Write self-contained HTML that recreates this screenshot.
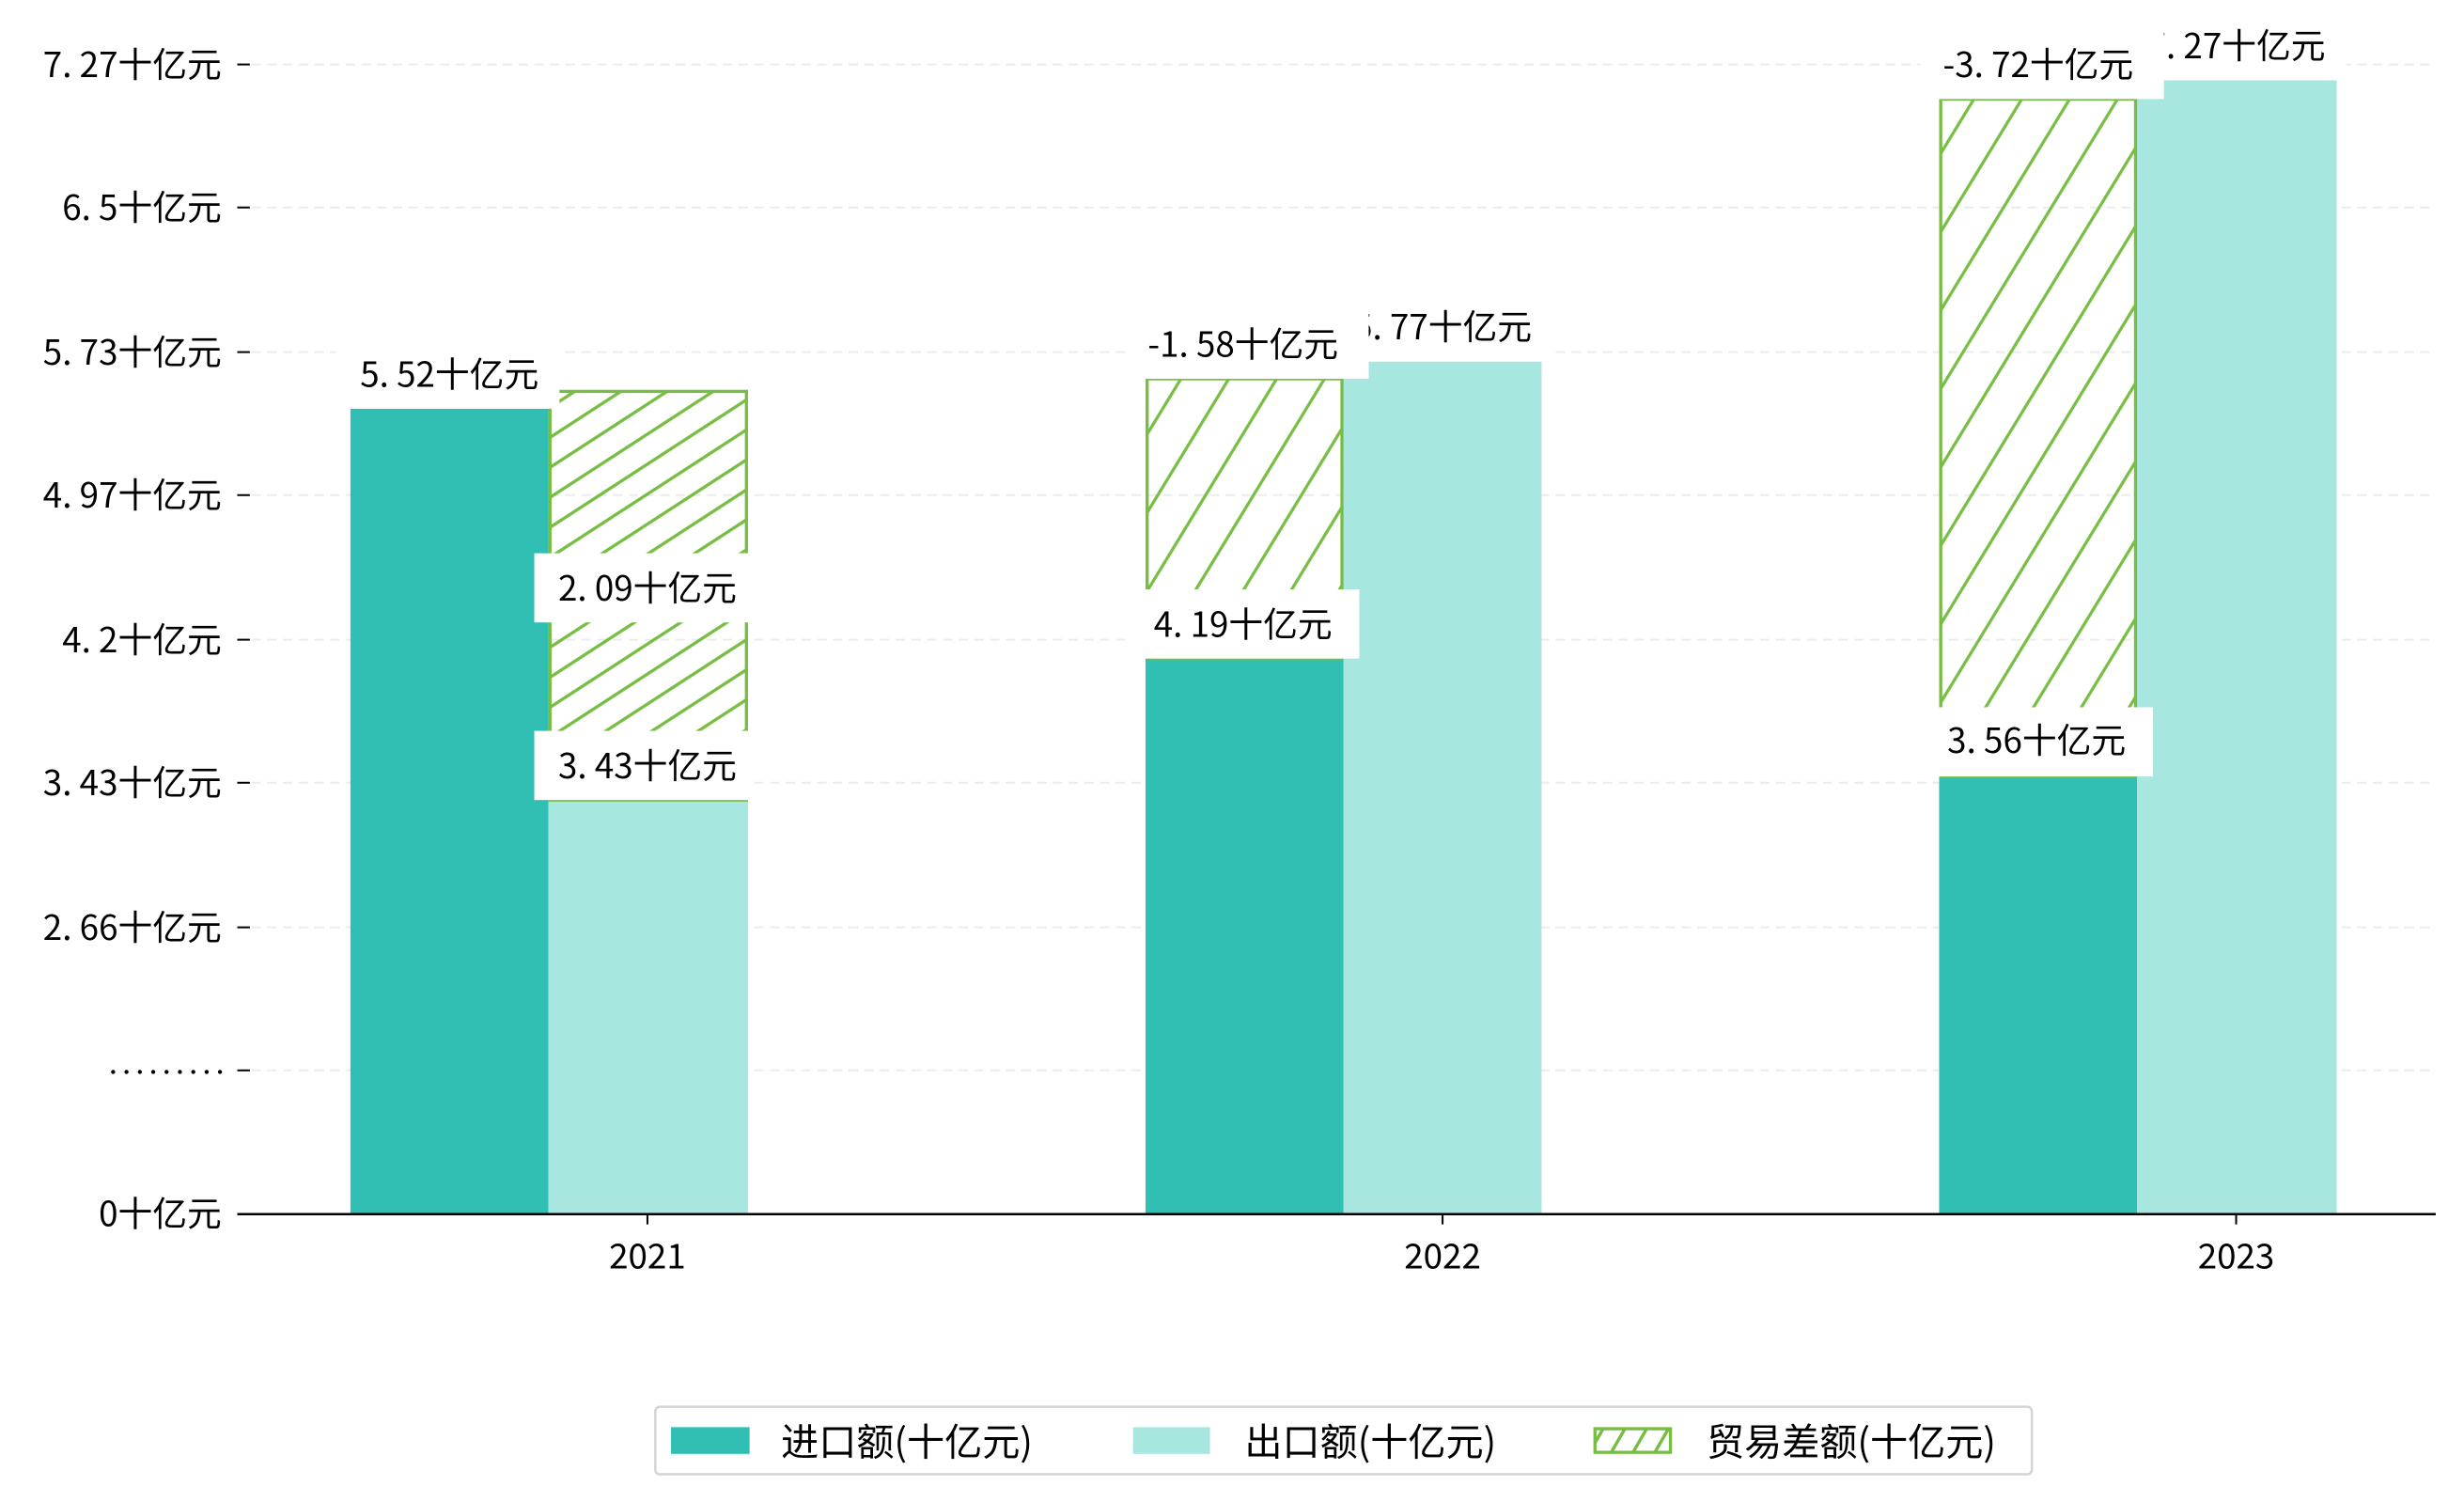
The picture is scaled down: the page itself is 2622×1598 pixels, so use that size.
<!DOCTYPE html>
<html><head><meta charset="utf-8"><style>
html,body{margin:0;padding:0;background:#fff;}
svg{display:block;}
text{font-family:"WenQuanYi Zen Hei","Noto Sans CJK SC",sans-serif;fill:#000;}
</style></head><body>
<svg width="2622" height="1598" viewBox="0 0 1568 955.6" xmlns="http://www.w3.org/2000/svg">
<defs>
<pattern id="h1" patternUnits="userSpaceOnUse" width="16" height="16" patternTransform="rotate(-33)">
<line x1="0" y1="8" x2="16" y2="8" stroke="#77bd43" stroke-width="2"/></pattern>
<pattern id="h2" patternUnits="userSpaceOnUse" width="26" height="26" patternTransform="rotate(-58.6)">
<line x1="0" y1="13" x2="26" y2="13" stroke="#77bd43" stroke-width="2"/></pattern>
<pattern id="h3" patternUnits="userSpaceOnUse" width="12" height="12" patternTransform="rotate(-60)">
<line x1="0" y1="6" x2="12" y2="6" stroke="#77bd43" stroke-width="2"/></pattern>
</defs>
<rect width="1568" height="956" fill="#fff"/>
<g stroke="#ececec" stroke-width="1.2" stroke-dasharray="6,4">
<line x1="160" y1="41" x2="1550" y2="41"/><line x1="160" y1="132" x2="1550" y2="132"/>
<line x1="160" y1="224" x2="1550" y2="224"/><line x1="160" y1="315" x2="1550" y2="315"/>
<line x1="160" y1="407" x2="1550" y2="407"/><line x1="160" y1="498" x2="1550" y2="498"/>
<line x1="160" y1="590" x2="1550" y2="590"/><line x1="160" y1="681" x2="1550" y2="681"/>
</g>
<g stroke="#000" stroke-width="1.2">
<line x1="151" y1="41" x2="159" y2="41"/><line x1="151" y1="132" x2="159" y2="132"/>
<line x1="151" y1="224" x2="159" y2="224"/><line x1="151" y1="315" x2="159" y2="315"/>
<line x1="151" y1="407" x2="159" y2="407"/><line x1="151" y1="498" x2="159" y2="498"/>
<line x1="151" y1="590" x2="159" y2="590"/><line x1="151" y1="681" x2="159" y2="681"/>
</g>
<g font-size="22" text-anchor="end">
<text x="141" y="49">7. 27十亿元</text><text x="141" y="140">6. 5十亿元</text>
<text x="141" y="232">5. 73十亿元</text><text x="141" y="323">4. 97十亿元</text>
<text x="141" y="415">4. 2十亿元</text><text x="141" y="506">3. 43十亿元</text>
<text x="141" y="598">2. 66十亿元</text>
<text x="141" y="780">0十亿元</text>
</g>
<g fill="#000">
<circle cx="72" cy="682" r="1.3"/><circle cx="80.5" cy="682" r="1.3"/><circle cx="89" cy="682" r="1.3"/>
<circle cx="97.5" cy="682" r="1.3"/><circle cx="106" cy="682" r="1.3"/><circle cx="114.5" cy="682" r="1.3"/>
<circle cx="123" cy="682" r="1.3"/><circle cx="131.5" cy="682" r="1.3"/><circle cx="140" cy="682" r="1.3"/>
</g>
<rect x="223" y="260" width="126" height="512" fill="#30bfb2"/>
<rect x="349" y="509" width="127" height="263" fill="#a8e7e0"/>
<rect x="350" y="249" width="125" height="260" fill="url(#h1)" stroke="#77bd43" stroke-width="2"/>
<rect x="729" y="419" width="126" height="353" fill="#30bfb2"/>
<rect x="855" y="230" width="126" height="542" fill="#a8e7e0"/>
<rect x="730" y="241" width="124" height="178" fill="url(#h2)" stroke="#77bd43" stroke-width="2"/>
<rect x="1234" y="494" width="126" height="278" fill="#30bfb2"/>
<rect x="1360" y="51" width="127" height="721" fill="#a8e7e0"/>
<rect x="1235" y="63" width="124" height="431" fill="url(#h2)" stroke="#77bd43" stroke-width="2"/>
<g font-size="22" text-anchor="middle">
<rect x="214" y="217" width="142" height="43" fill="#fff"/><text x="286" y="246">5. 52十亿元</text>
<rect x="340" y="465" width="138" height="44" fill="#fff"/><text x="412" y="495">3. 43十亿元</text>
<rect x="340" y="352" width="138" height="44" fill="#fff"/><text x="412" y="382">2. 09十亿元</text>
<rect x="848" y="187" width="140" height="43" fill="#fff"/><text x="918" y="216">5. 77十亿元</text>
<rect x="717" y="375" width="148" height="44" fill="#fff"/><text x="791" y="405">4. 19十亿元</text>
<rect x="717" y="198" width="154" height="43" fill="#fff"/><text x="791" y="227">-1. 58十亿元</text>
<rect x="1353" y="8" width="140" height="43" fill="#fff"/><text x="1423" y="37">7. 27十亿元</text>
<rect x="1222" y="450" width="148" height="44" fill="#fff"/><text x="1296" y="479">3. 56十亿元</text>
<rect x="1222" y="20" width="155" height="43" fill="#fff"/><text x="1297" y="49">-3. 72十亿元</text>
</g>
<line x1="151" y1="772.5" x2="1550" y2="772.5" stroke="#000" stroke-width="1.5"/>
<g stroke="#000" stroke-width="1.2"><line x1="412" y1="772" x2="412" y2="779"/><line x1="918" y1="772" x2="918" y2="779"/><line x1="1423" y1="772" x2="1423" y2="779"/></g>
<g font-size="22" text-anchor="middle"><text x="412" y="807">2021</text><text x="918" y="807">2022</text><text x="1423" y="807">2023</text></g>
<rect x="417" y="895" width="876" height="43" rx="3" fill="#fff" stroke="#d4d4d4" stroke-width="1.5"/>
<rect x="427" y="908" width="50" height="17" fill="#30bfb2"/>
<rect x="721" y="908" width="49" height="17" fill="#a8e7e0"/>
<rect x="1015" y="909" width="48" height="15" fill="url(#h3)" stroke="#77bd43" stroke-width="2"/>
<g font-size="24"><text x="497" y="926">进口额(十亿元)</text><text x="792" y="926">出口额(十亿元)</text><text x="1086" y="926">贸易差额(十亿元)</text></g>
</svg>
</body></html>
